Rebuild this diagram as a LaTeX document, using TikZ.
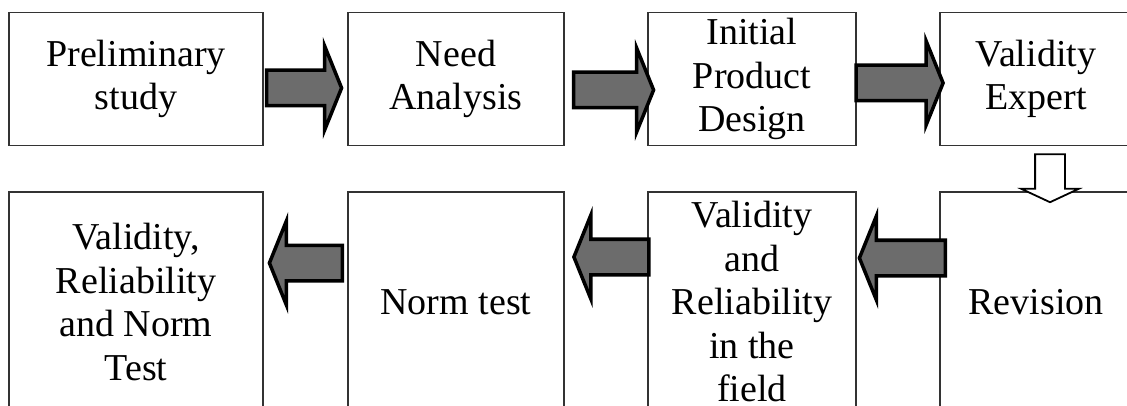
\documentclass[tikz,border=0pt]{standalone}
\usepackage{fontspec}
\setmainfont{Liberation Serif}
\usetikzlibrary{shapes.arrows,calc}
\definecolor{arrowgray}{RGB}{108,108,108}

\begin{document}
\begin{tikzpicture}
      [%%%%%%%%%%%%%%%%%%%%%%%%%%%%%%
          x=1pt, y=-1pt,
          stage/.style={rectangle,draw=black!80,line width=1.3pt,align=center,
              inner sep=0pt,font=\fontsize{38}{43.5}\selectfont},
          fatarrow/.style={single arrow,draw=black,line width=3.5pt,fill=arrowgray,
              inner xsep=0pt,inner ysep=16pt,single arrow head extend=24pt,
              single arrow tip angle=136},
          openarrow/.style={single arrow,draw=black,line width=1.8pt,fill=white,
              inner xsep=0pt,inner ysep=14pt,single arrow head extend=14pt,
              single arrow tip angle=130,rotate=-90}
      ]%%%%%%%%%%%%%%%%%%%%%%%%%%%%%%

  \useasboundingbox (0,0) rectangle (1127,406);

  % top row
  \foreach \id/\cx/\bw/\txt in {prelim/136/254/{Preliminary\\study},
                                need/456/216/{Need\\Analysis},
                                design/752/208/{Initial\\Product\\Design},
                                expert/1036/192/{Validity\\Expert}}
      \node[stage,minimum width=\bw pt,minimum height=133pt] (\id) at (\cx,79) {\txt};

  % bottom row
  \foreach \id/\cx/\bw/\txt in {result/136/254/{Validity,\\Reliability\\and Norm\\Test},
                                normtest/456/216/{Norm test},
                                field/752/208/{Validity\\and\\Reliability\\in the\\field},
                                revision/1036/192/{Revision}}
      \node[stage,minimum width=\bw pt,minimum height=220pt] (\id) at (\cx,302) {\txt};

  \foreach \a/\b/\len/\dx/\dy in {prelim/need/75/-5/9, need/design/80/4/11,
                                  design/expert/87/-2/4}
      \node[fatarrow,minimum height=\len pt] (\a-\b)
          at ($(\a.east)!.5!(\b.west)+(\dx,\dy)$) {};

  \foreach \a/\b/\len/\dx/\dy in {revision/field/86/8/-44, field/normtest/75/9/-45,
                                  normtest/result/73/4/-39}
      \node[fatarrow,rotate=180,minimum height=\len pt] (\a-\b)
          at ($(\a.west)!.5!(\b.east)+(\dx,\dy)$) {};

  \node[openarrow,minimum height=48pt] (expert-revision)
      at ($(expert.south)!.5!(revision.north)+(14,6)$) {};

\end{tikzpicture}
\end{document}
